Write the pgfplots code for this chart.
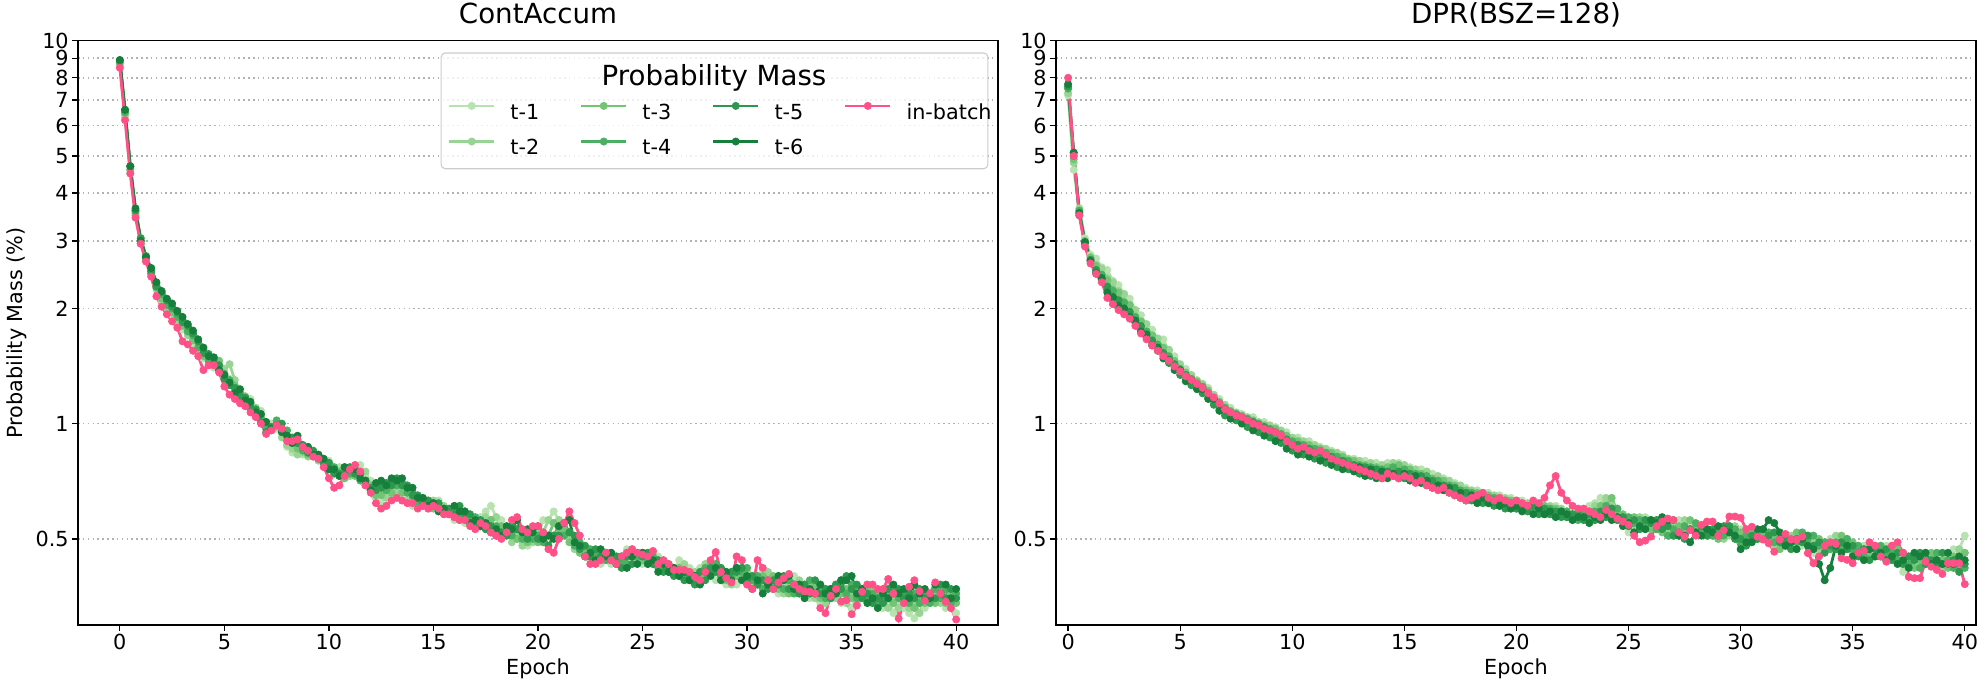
\documentclass[border=0pt]{standalone}
\usepackage{fontspec}
\setmainfont{DejaVu Sans}
\usepackage{pgfplots}
\usepackage{pgfplotstable}
\pgfplotsset{compat=1.18}
\definecolor{g1}{HTML}{B8E3B1}
\definecolor{g2}{HTML}{98D594}
\definecolor{g3}{HTML}{74C476}
\definecolor{g4}{HTML}{4BB062}
\definecolor{g5}{HTML}{2F984F}
\definecolor{g6}{HTML}{157F3B}
\definecolor{pk}{HTML}{FF5087}

\pgfplotstableread{
x a b c d e f p
0 8.6 8.7 8.8 8.8 8.9 8.9 8.5
0.25 6.3 6.4 6.5 6.5 6.6 6.6 6.2
0.5 4.5 4.6 4.6 4.7 4.7 4.7 4.5
0.75 3.5 3.5 3.55 3.6 3.6 3.65 3.45
1 3.0 3.05 2.95 3.0 3.05 3.0 2.95
1.25 2.74 2.7 2.68 2.72 2.74 2.72 2.65
1.5 2.5 2.45 2.52 2.47 2.5 2.55 2.42
1.75 2.25 2.3 2.26 2.32 2.28 2.34 2.15
2 2.1 2.16 2.12 2.18 2.2 2.22 2.02
2.25 2.04 2.0 2.06 2.04 2.1 2.12 1.93
2.5 1.92 1.97 1.95 2.0 2.02 2.06 1.85
2.75 1.88 1.85 1.92 1.9 1.95 1.97 1.78
3 1.76 1.82 1.8 1.86 1.84 1.9 1.64
3.25 1.72 1.7 1.76 1.74 1.8 1.82 1.61
3.5 1.62 1.67 1.65 1.7 1.72 1.75 1.55
3.75 1.57 1.55 1.62 1.58 1.64 1.66 1.5
4 1.48 1.53 1.5 1.56 1.53 1.58 1.38
4.25 1.46 1.44 1.49 1.46 1.52 1.5 1.42
4.5 1.4 1.46 1.44 1.47 1.44 1.49 1.42
4.75 1.43 1.4 1.46 1.38 1.42 1.38 1.36
5 1.32 1.39 1.34 1.35 1.31 1.34 1.25
5.25 1.31 1.43 1.28 1.3 1.26 1.28 1.19
5.5 1.22 1.3 1.26 1.21 1.24 1.2 1.16
5.75 1.21 1.2 1.17 1.2 1.18 1.23 1.13
6 1.14 1.18 1.16 1.13 1.17 1.15 1.11
6.25 1.16 1.11 1.1 1.13 1.1 1.14 1.07
6.5 1.1 1.1 1.07 1.05 1.09 1.07 1.04
6.75 1.08 1.04 1.05 1.03 1.01 1.06 1.0
7 1.0 1.01 0.97 0.98 0.95 1.01 0.94
7.25 1.0 0.96 0.98 0.97 0.98 0.97 0.96
7.5 0.97 0.98 1.0 1.02 0.99 0.99 0.99
7.75 0.95 0.92 0.95 0.97 1.0 0.95 0.97
8 0.87 0.88 0.91 0.96 0.93 0.93 0.9
8.25 0.84 0.86 0.9 0.89 0.92 0.89 0.9
8.5 0.85 0.83 0.86 0.89 0.89 0.93 0.91
8.75 0.83 0.84 0.87 0.85 0.88 0.87 0.87
9 0.85 0.82 0.83 0.86 0.84 0.87 0.85
9.25 0.82 0.83 0.84 0.83 0.85 0.83 0.82
9.5 0.83 0.8 0.81 0.82 0.81 0.83 0.81
9.75 0.79 0.8 0.79 0.8 0.79 0.81 0.77
10 0.8 0.76 0.79 0.76 0.79 0.76 0.72
10.25 0.76 0.76 0.75 0.77 0.74 0.76 0.68
10.5 0.77 0.73 0.75 0.74 0.74 0.73 0.69
10.75 0.72 0.75 0.72 0.77 0.74 0.77 0.73
11 0.73 0.73 0.76 0.74 0.77 0.76 0.76
11.25 0.75 0.77 0.73 0.75 0.74 0.76 0.78
11.5 0.78 0.75 0.74 0.71 0.74 0.72 0.75
11.75 0.74 0.75 0.7 0.71 0.69 0.71 0.69
12 0.71 0.68 0.69 0.67 0.68 0.67 0.66
12.25 0.64 0.67 0.65 0.68 0.67 0.7 0.62
12.5 0.62 0.66 0.65 0.69 0.68 0.71 0.6
12.75 0.65 0.64 0.68 0.67 0.7 0.69 0.61
13 0.64 0.67 0.66 0.7 0.69 0.72 0.63
13.25 0.67 0.66 0.69 0.69 0.72 0.71 0.64
13.5 0.63 0.67 0.66 0.7 0.69 0.72 0.63
13.75 0.64 0.63 0.67 0.66 0.69 0.68 0.62
14 0.61 0.64 0.63 0.66 0.65 0.68 0.62
14.25 0.62 0.61 0.64 0.62 0.65 0.64 0.6
14.5 0.61 0.63 0.61 0.63 0.62 0.64 0.61
14.75 0.63 0.6 0.62 0.61 0.63 0.61 0.6
15 0.62 0.63 0.6 0.62 0.61 0.62 0.61
15.25 0.63 0.6 0.61 0.59 0.62 0.59 0.6
15.5 0.59 0.61 0.58 0.6 0.59 0.6 0.58
15.75 0.59 0.58 0.59 0.58 0.6 0.58 0.58
16 0.56 0.59 0.57 0.59 0.58 0.61 0.57
16.25 0.57 0.56 0.59 0.58 0.61 0.59 0.56
16.5 0.55 0.58 0.56 0.59 0.58 0.59 0.56
16.75 0.56 0.55 0.57 0.56 0.58 0.55 0.54
17 0.54 0.56 0.54 0.57 0.55 0.56 0.53
17.25 0.57 0.54 0.56 0.54 0.56 0.54 0.55
17.5 0.59 0.57 0.54 0.55 0.53 0.55 0.54
17.75 0.61 0.56 0.56 0.53 0.54 0.52 0.52
18 0.57 0.57 0.53 0.54 0.51 0.53 0.51
18.25 0.56 0.53 0.54 0.51 0.52 0.51 0.5
18.5 0.52 0.53 0.51 0.53 0.51 0.54 0.52
18.75 0.53 0.49 0.52 0.51 0.54 0.53 0.56
19 0.5 0.51 0.5 0.53 0.53 0.56 0.57
19.25 0.51 0.48 0.51 0.5 0.53 0.52 0.53
19.5 0.48 0.5 0.49 0.51 0.5 0.53 0.52
19.75 0.51 0.49 0.51 0.5 0.53 0.52 0.54
20 0.51 0.52 0.49 0.51 0.5 0.54 0.54
20.25 0.56 0.52 0.52 0.49 0.51 0.5 0.52
20.5 0.56 0.56 0.51 0.51 0.48 0.51 0.47
20.75 0.59 0.55 0.55 0.51 0.51 0.5 0.46
21 0.56 0.56 0.52 0.54 0.51 0.54 0.5
21.25 0.55 0.52 0.53 0.51 0.55 0.55 0.55
21.5 0.5 0.51 0.49 0.52 0.52 0.56 0.59
21.75 0.5 0.47 0.5 0.48 0.51 0.49 0.55
22 0.46 0.48 0.46 0.49 0.47 0.48 0.51
22.25 0.47 0.45 0.47 0.45 0.48 0.45 0.45
22.5 0.44 0.46 0.45 0.47 0.45 0.46 0.43
22.75 0.45 0.44 0.46 0.45 0.47 0.44 0.43
23 0.43 0.45 0.44 0.46 0.45 0.47 0.44
23.25 0.46 0.44 0.46 0.44 0.46 0.45 0.46
23.5 0.43 0.45 0.44 0.46 0.44 0.46 0.44
23.75 0.44 0.43 0.45 0.43 0.45 0.43 0.43
24 0.44 0.45 0.43 0.44 0.42 0.45 0.45
24.25 0.47 0.45 0.46 0.43 0.45 0.42 0.46
24.5 0.44 0.47 0.45 0.46 0.43 0.45 0.47
24.75 0.45 0.44 0.46 0.45 0.46 0.43 0.46
25 0.43 0.45 0.44 0.46 0.45 0.46 0.455
25.25 0.46 0.43 0.45 0.44 0.46 0.43 0.45
25.5 0.45 0.46 0.43 0.45 0.43 0.44 0.465
25.75 0.45 0.43 0.44 0.42 0.44 0.41 0.43
26 0.41 0.44 0.42 0.43 0.41 0.43 0.44
26.25 0.42 0.41 0.43 0.41 0.42 0.41 0.43
26.5 0.41 0.42 0.41 0.42 0.4 0.42 0.415
26.75 0.44 0.41 0.42 0.4 0.41 0.4 0.415
27 0.41 0.43 0.4 0.41 0.39 0.41 0.415
27.25 0.42 0.4 0.41 0.39 0.4 0.39 0.41
27.5 0.39 0.41 0.39 0.4 0.38 0.4 0.398
27.75 0.42 0.4 0.41 0.39 0.41 0.38 0.39
28 0.41 0.43 0.4 0.42 0.39 0.41 0.41
28.25 0.42 0.41 0.43 0.41 0.42 0.4 0.44
28.5 0.39 0.42 0.41 0.43 0.41 0.42 0.462
28.75 0.4 0.39 0.42 0.4 0.42 0.39 0.41
29 0.38 0.4 0.39 0.41 0.4 0.41 0.395
29.25 0.39 0.38 0.41 0.4 0.41 0.39 0.385
29.5 0.38 0.41 0.4 0.42 0.41 0.42 0.45
29.75 0.41 0.4 0.42 0.41 0.42 0.39 0.44
30 0.38 0.41 0.39 0.42 0.39 0.4 0.38
30.25 0.39 0.38 0.4 0.39 0.4 0.37 0.37
30.5 0.38 0.39 0.38 0.4 0.38 0.39 0.44
30.75 0.41 0.38 0.4 0.37 0.39 0.36 0.42
31 0.38 0.41 0.38 0.39 0.37 0.38 0.39
31.25 0.39 0.38 0.4 0.38 0.39 0.37 0.37
31.5 0.36 0.39 0.37 0.4 0.38 0.4 0.385
31.75 0.38 0.36 0.39 0.37 0.4 0.39 0.395
32 0.37 0.38 0.36 0.39 0.37 0.4 0.405
32.25 0.4 0.37 0.38 0.36 0.38 0.37 0.38
32.5 0.37 0.39 0.36 0.38 0.36 0.38 0.37
32.75 0.38 0.36 0.38 0.36 0.38 0.35 0.365
33 0.35 0.38 0.36 0.39 0.36 0.37 0.364
33.25 0.36 0.35 0.38 0.36 0.39 0.36 0.36
33.5 0.34 0.36 0.35 0.38 0.36 0.38 0.33
33.75 0.37 0.34 0.37 0.35 0.37 0.36 0.32
34 0.36 0.37 0.35 0.37 0.35 0.37 0.355
34.25 0.37 0.35 0.38 0.36 0.38 0.36 0.37
34.5 0.34 0.37 0.36 0.39 0.37 0.39 0.343
34.75 0.35 0.34 0.37 0.36 0.4 0.39 0.346
35 0.33 0.36 0.35 0.38 0.37 0.4 0.318
35.25 0.36 0.34 0.37 0.35 0.38 0.36 0.335
35.5 0.35 0.37 0.35 0.37 0.35 0.37 0.364
35.75 0.38 0.35 0.37 0.35 0.36 0.34 0.38
36 0.35 0.37 0.35 0.36 0.34 0.35 0.38
36.25 0.36 0.34 0.36 0.34 0.35 0.33 0.37
36.5 0.33 0.36 0.34 0.36 0.34 0.36 0.37
36.75 0.35 0.33 0.36 0.35 0.37 0.35 0.393
37 0.32 0.35 0.34 0.37 0.36 0.38 0.36
37.25 0.34 0.33 0.36 0.35 0.37 0.36 0.31
37.5 0.33 0.35 0.34 0.36 0.35 0.37 0.34
37.75 0.32 0.33 0.35 0.34 0.36 0.35 0.375
38 0.31 0.34 0.33 0.36 0.35 0.38 0.39
38.25 0.34 0.32 0.35 0.34 0.37 0.36 0.365
38.5 0.33 0.35 0.34 0.36 0.35 0.37 0.345
38.75 0.36 0.34 0.36 0.34 0.36 0.35 0.36
39 0.35 0.36 0.34 0.37 0.35 0.38 0.385
39.25 0.36 0.34 0.37 0.35 0.38 0.36 0.36
39.5 0.33 0.35 0.34 0.37 0.35 0.38 0.343
39.75 0.34 0.33 0.36 0.34 0.37 0.35 0.33
40 0.32 0.35 0.34 0.36 0.35 0.37 0.308
}\Ldata

\pgfplotstableread{
x a b c d e f p
0 7.2 7.3 7.5 7.5 7.6 7.7 8.0
0.25 4.6 4.8 4.9 5.0 5.1 5.1 5.0
0.5 3.6 3.65 3.55 3.6 3.5 3.55 3.5
0.75 3.05 3.0 3.0 2.95 2.97 2.98 2.9
1 2.76 2.7 2.72 2.66 2.68 2.66 2.62
1.25 2.7 2.6 2.58 2.5 2.52 2.47 2.46
1.5 2.56 2.54 2.44 2.45 2.38 2.4 2.34
1.75 2.52 2.4 2.37 2.28 2.28 2.2 2.13
2 2.36 2.34 2.24 2.22 2.14 2.14 2.05
2.25 2.3 2.22 2.2 2.1 2.1 2.03 1.98
2.5 2.18 2.18 2.08 2.07 1.98 2.0 1.93
2.75 2.12 2.04 2.04 1.95 1.96 1.9 1.88
3 1.98 1.98 1.9 1.9 1.84 1.86 1.8
3.25 1.92 1.85 1.85 1.78 1.8 1.74 1.72
3.5 1.8 1.82 1.74 1.74 1.68 1.71 1.66
3.75 1.76 1.7 1.7 1.63 1.65 1.6 1.6
4 1.66 1.67 1.6 1.61 1.55 1.58 1.55
4.25 1.66 1.58 1.58 1.51 1.53 1.48 1.5
4.5 1.54 1.56 1.48 1.5 1.44 1.47 1.46
4.75 1.5 1.44 1.46 1.4 1.43 1.38 1.41
5 1.4 1.43 1.37 1.39 1.34 1.38 1.37
5.25 1.39 1.34 1.36 1.31 1.34 1.29 1.33
5.5 1.31 1.34 1.28 1.31 1.26 1.3 1.3
5.75 1.3 1.26 1.29 1.24 1.27 1.23 1.27
6 1.23 1.27 1.22 1.25 1.2 1.23 1.24
6.25 1.24 1.19 1.22 1.17 1.2 1.16 1.2
6.5 1.16 1.19 1.14 1.17 1.12 1.16 1.17
6.75 1.16 1.11 1.14 1.09 1.13 1.08 1.13
7 1.09 1.12 1.07 1.1 1.05 1.09 1.09
7.25 1.1 1.05 1.08 1.04 1.07 1.03 1.07
7.5 1.04 1.07 1.03 1.06 1.02 1.05 1.05
7.75 1.06 1.02 1.05 1.01 1.04 1.0 1.04
8 1.01 1.04 1.0 1.03 0.98 1.02 1.02
8.25 1.04 0.99 1.02 0.97 1.01 0.96 1.0
8.5 0.98 1.01 0.97 1.0 0.95 0.99 0.99
8.75 1.01 0.96 0.99 0.95 0.98 0.93 0.97
9 0.96 0.99 0.94 0.97 0.92 0.96 0.96
9.25 0.98 0.93 0.97 0.92 0.95 0.9 0.95
9.5 0.92 0.96 0.91 0.94 0.89 0.92 0.93
9.75 0.95 0.9 0.93 0.88 0.91 0.86 0.9
10 0.89 0.92 0.87 0.9 0.85 0.88 0.88
10.25 0.92 0.87 0.9 0.85 0.88 0.83 0.86
10.5 0.87 0.9 0.85 0.88 0.83 0.86 0.87
10.75 0.9 0.85 0.88 0.83 0.86 0.82 0.85
11 0.85 0.88 0.83 0.86 0.81 0.84 0.84
11.25 0.87 0.83 0.86 0.81 0.84 0.8 0.85
11.5 0.82 0.86 0.81 0.84 0.79 0.82 0.83
11.75 0.85 0.81 0.84 0.79 0.82 0.78 0.81
12 0.8 0.84 0.79 0.82 0.77 0.8 0.8
12.25 0.83 0.79 0.82 0.77 0.8 0.76 0.79
12.5 0.78 0.81 0.77 0.8 0.76 0.78 0.78
12.75 0.81 0.77 0.8 0.76 0.78 0.75 0.77
13 0.77 0.8 0.76 0.78 0.74 0.77 0.76
13.25 0.8 0.76 0.78 0.75 0.77 0.73 0.75
13.5 0.76 0.79 0.75 0.77 0.73 0.76 0.74
13.75 0.79 0.75 0.77 0.73 0.76 0.72 0.73
14 0.75 0.78 0.74 0.76 0.72 0.75 0.72
14.25 0.79 0.75 0.77 0.73 0.75 0.72 0.74
14.5 0.77 0.79 0.75 0.77 0.73 0.74 0.73
14.75 0.79 0.76 0.78 0.74 0.75 0.72 0.72
15 0.75 0.78 0.74 0.76 0.72 0.74 0.73
15.25 0.77 0.74 0.76 0.72 0.74 0.71 0.72
15.5 0.74 0.76 0.72 0.74 0.71 0.73 0.7
15.75 0.76 0.72 0.74 0.71 0.73 0.7 0.71
16 0.72 0.75 0.71 0.73 0.69 0.71 0.69
16.25 0.74 0.7 0.72 0.69 0.71 0.68 0.68
16.5 0.7 0.73 0.69 0.71 0.68 0.69 0.67
16.75 0.72 0.69 0.71 0.67 0.69 0.67 0.68
17 0.68 0.71 0.67 0.69 0.66 0.68 0.66
17.25 0.7 0.67 0.69 0.66 0.68 0.65 0.65
17.5 0.67 0.69 0.66 0.67 0.64 0.66 0.64
17.75 0.68 0.65 0.67 0.64 0.66 0.63 0.63
18 0.65 0.67 0.64 0.66 0.63 0.65 0.64
18.25 0.67 0.64 0.66 0.63 0.65 0.62 0.65
18.5 0.64 0.66 0.63 0.65 0.62 0.64 0.66
18.75 0.66 0.63 0.65 0.62 0.64 0.62 0.64
19 0.63 0.65 0.62 0.64 0.61 0.63 0.63
19.25 0.65 0.62 0.64 0.61 0.63 0.61 0.64
19.5 0.62 0.64 0.61 0.63 0.6 0.62 0.63
19.75 0.64 0.61 0.63 0.6 0.62 0.6 0.62
20 0.61 0.63 0.6 0.62 0.6 0.61 0.63
20.25 0.63 0.6 0.62 0.6 0.61 0.59 0.62
20.5 0.6 0.62 0.6 0.61 0.59 0.61 0.61
20.75 0.62 0.6 0.61 0.59 0.61 0.58 0.63
21 0.59 0.61 0.59 0.61 0.58 0.6 0.62
21.25 0.61 0.59 0.61 0.58 0.6 0.58 0.64
21.5 0.59 0.61 0.58 0.6 0.58 0.59 0.69
21.75 0.61 0.58 0.6 0.58 0.59 0.57 0.73
22 0.58 0.6 0.58 0.59 0.57 0.59 0.66
22.25 0.57 0.59 0.57 0.59 0.57 0.58 0.63
22.5 0.56 0.58 0.58 0.57 0.58 0.56 0.61
22.75 0.58 0.57 0.59 0.56 0.58 0.57 0.6
23 0.57 0.59 0.57 0.58 0.56 0.57 0.6
23.25 0.61 0.58 0.59 0.57 0.58 0.55 0.59
23.5 0.62 0.61 0.58 0.59 0.56 0.57 0.58
23.75 0.64 0.61 0.61 0.58 0.59 0.56 0.57
24 0.61 0.64 0.61 0.61 0.57 0.58 0.595
24.25 0.61 0.61 0.64 0.6 0.6 0.56 0.58
24.5 0.56 0.6 0.59 0.6 0.56 0.57 0.565
24.75 0.56 0.55 0.58 0.56 0.57 0.54 0.555
25 0.52 0.55 0.54 0.57 0.54 0.55 0.544
25.25 0.55 0.54 0.57 0.55 0.56 0.52 0.51
25.5 0.54 0.57 0.55 0.56 0.53 0.54 0.49
25.75 0.57 0.54 0.56 0.54 0.56 0.53 0.495
26 0.54 0.56 0.53 0.56 0.55 0.56 0.507
26.25 0.56 0.53 0.55 0.53 0.56 0.55 0.54
26.5 0.53 0.55 0.52 0.54 0.53 0.57 0.555
26.75 0.54 0.52 0.54 0.51 0.54 0.56 0.565
27 0.53 0.54 0.51 0.53 0.51 0.56 0.56
27.25 0.56 0.53 0.54 0.51 0.52 0.51 0.52
27.5 0.53 0.56 0.53 0.54 0.5 0.51 0.507
27.75 0.54 0.53 0.56 0.53 0.53 0.49 0.527
28 0.51 0.54 0.53 0.55 0.52 0.52 0.51
28.25 0.53 0.51 0.54 0.52 0.54 0.51 0.544
28.5 0.52 0.53 0.51 0.53 0.51 0.53 0.555
28.75 0.53 0.51 0.52 0.51 0.53 0.52 0.555
29 0.5 0.52 0.5 0.52 0.51 0.54 0.51
29.25 0.51 0.5 0.53 0.51 0.54 0.53 0.527
29.5 0.53 0.51 0.54 0.52 0.54 0.52 0.572
29.75 0.52 0.54 0.51 0.53 0.5 0.51 0.572
30 0.53 0.51 0.52 0.49 0.5 0.47 0.568
30.25 0.5 0.52 0.5 0.51 0.48 0.49 0.53
30.5 0.51 0.5 0.53 0.5 0.51 0.49 0.538
30.75 0.5 0.51 0.5 0.52 0.5 0.53 0.507
31 0.53 0.5 0.51 0.5 0.53 0.53 0.498
31.25 0.5 0.51 0.49 0.52 0.51 0.56 0.487
31.5 0.51 0.48 0.5 0.49 0.52 0.55 0.463
31.75 0.48 0.5 0.47 0.5 0.49 0.52 0.498
32 0.49 0.48 0.5 0.48 0.5 0.48 0.515
32.25 0.48 0.51 0.49 0.5 0.47 0.49 0.498
32.5 0.51 0.5 0.52 0.49 0.5 0.47 0.498
32.75 0.48 0.51 0.5 0.52 0.49 0.5 0.507
33 0.49 0.48 0.51 0.5 0.51 0.48 0.459
33.25 0.46 0.49 0.48 0.51 0.48 0.47 0.432
33.5 0.48 0.47 0.5 0.48 0.49 0.43 0.45
33.75 0.47 0.49 0.47 0.49 0.46 0.39 0.48
34 0.5 0.48 0.49 0.47 0.48 0.42 0.49
34.25 0.49 0.51 0.48 0.49 0.47 0.48 0.485
34.5 0.5 0.49 0.51 0.48 0.49 0.46 0.445
34.75 0.47 0.5 0.48 0.5 0.47 0.48 0.441
35 0.47 0.46 0.49 0.47 0.48 0.45 0.432
35.25 0.45 0.47 0.46 0.48 0.45 0.46 0.46
35.5 0.48 0.45 0.47 0.45 0.47 0.44 0.466
35.75 0.45 0.48 0.45 0.47 0.44 0.47 0.49
36 0.46 0.45 0.48 0.45 0.47 0.45 0.48
36.25 0.45 0.46 0.45 0.48 0.45 0.46 0.45
36.5 0.48 0.45 0.46 0.45 0.47 0.44 0.436
36.75 0.45 0.48 0.45 0.46 0.44 0.45 0.48
37 0.45 0.45 0.47 0.44 0.46 0.43 0.49
37.25 0.41 0.45 0.44 0.46 0.43 0.44 0.46
37.5 0.44 0.42 0.45 0.43 0.45 0.42 0.398
37.75 0.43 0.44 0.42 0.45 0.44 0.46 0.395
38 0.46 0.43 0.44 0.42 0.46 0.45 0.395
38.25 0.43 0.46 0.43 0.44 0.43 0.46 0.436
38.5 0.44 0.43 0.46 0.43 0.44 0.43 0.423
38.75 0.42 0.44 0.43 0.46 0.43 0.44 0.415
39 0.45 0.42 0.44 0.43 0.46 0.43 0.405
39.25 0.44 0.45 0.42 0.44 0.43 0.46 0.432
39.5 0.47 0.44 0.45 0.42 0.44 0.43 0.432
39.75 0.47 0.47 0.43 0.44 0.41 0.45 0.432
40 0.51 0.46 0.46 0.42 0.43 0.44 0.381
}\Rdata

\pgfplotsset{
  every axis/.append style={
    scale only axis, width=662.4bp, height=420.7bp,
    ymode=log, ymin=0.298, ymax=10,
    ytick={0.5,1,2,3,4,5,6,7,8,9,10},
    yticklabels={0.5,1,2,3,4,5,6,7,8,9,10},
    xtick={0,5,10,15,20,25,30,35,40},
    xticklabels={0,5,10,15,20,25,30,35,40},
    minor y tick num=0,
    axis line style={line width=0.9bp},
    major tick style={line width=0.9bp, black},
    major tick length=4bp,
    tick align=outside,
    xtick pos=left, ytick pos=left,
    ymajorgrids,
    major grid style={line width=1.1bp, color=black!30, dash pattern=on 1.1bp off 2.4bp},
    tick label style={font=\fontsize{15}{18}\selectfont, inner sep=2.5bp},
    /pgf/number format/assume math mode=true,
    title style={font=\fontsize{20}{24}\selectfont, at={(0.5,1)}, anchor=base, yshift=6.5bp},
    xlabel style={font=\fontsize{15}{18}\selectfont, at={(0.5,0)}, anchor=base, yshift=-36bp},
    ylabel style={font=\fontsize{15}{18}\selectfont, at={(-0.0661,0.5)}, anchor=center},
  },
}

\begin{document}
\begin{tikzpicture}
\useasboundingbox (-56.16bp,-46.8bp) rectangle (1374.5bp,450bp);
\begin{axis}[at={(0,0)}, anchor=south west,
  xmin=-2, xmax=42,
  title={ContAccum}, xlabel={Epoch}, ylabel={Probability Mass (\%)},
  legend columns=4, legend cell align=left,
  legend image code/.code={\draw[mark repeat=2,mark phase=2,#1] plot coordinates {(0bp,5.8bp) (16.2bp,5.8bp) (32.4bp,5.8bp)};},
  legend style={draw=none, fill=none, inner sep=0pt, outer sep=0pt,
    at={(0.402,0.8455)}, anchor=west,
    font=\fontsize{15}{18}\selectfont,
    row sep=10bp,
    /tikz/every even column/.append style={column sep=18.5bp},
    nodes={inner xsep=10.7bp, inner ysep=0pt, text height=11bp, text depth=3.5bp}},
]
\addplot[color=g1, line width=2bp, mark=*, mark size=2.6bp, mark options={line width=0.5bp}, forget plot] table[x=x, y=a]{\Ldata};
\addplot[color=g2, line width=2bp, mark=*, mark size=2.6bp, mark options={line width=0.5bp}, forget plot] table[x=x, y=b]{\Ldata};
\addplot[color=g3, line width=2bp, mark=*, mark size=2.6bp, mark options={line width=0.5bp}, forget plot] table[x=x, y=c]{\Ldata};
\addplot[color=g4, line width=2bp, mark=*, mark size=2.6bp, mark options={line width=0.5bp}, forget plot] table[x=x, y=d]{\Ldata};
\addplot[color=g5, line width=2bp, mark=*, mark size=2.6bp, mark options={line width=0.5bp}, forget plot] table[x=x, y=e]{\Ldata};
\addplot[color=g6, line width=2bp, mark=*, mark size=2.6bp, mark options={line width=0.5bp}, forget plot] table[x=x, y=f]{\Ldata};
\addplot[color=pk, line width=2bp, mark=*, mark size=2.6bp, mark options={line width=0.5bp}, forget plot] table[x=x, y=p]{\Ldata};
\draw[rounded corners=3bp, draw=black!20, line width=0.8bp, fill=white, fill opacity=0.8]
  (rel axis cs:0.3947,0.979) rectangle (rel axis cs:0.989,0.7809);
\node[font=\fontsize{20}{24}\selectfont, anchor=base] at (rel axis cs:0.6913,0.924) {Probability Mass};
\addlegendimage{color=g1, line width=2bp, mark=*, mark size=2.6bp, mark options={line width=0.5bp}}\addlegendentry{t-1}
\addlegendimage{color=g3, line width=2bp, mark=*, mark size=2.6bp, mark options={line width=0.5bp}}\addlegendentry{t-3}
\addlegendimage{color=g5, line width=2bp, mark=*, mark size=2.6bp, mark options={line width=0.5bp}}\addlegendentry{t-5}
\addlegendimage{color=pk, line width=2bp, mark=*, mark size=2.6bp, mark options={line width=0.5bp}}\addlegendentry{in-batch}
\addlegendimage{color=g2, line width=2bp, mark=*, mark size=2.6bp, mark options={line width=0.5bp}}\addlegendentry{t-2}
\addlegendimage{color=g4, line width=2bp, mark=*, mark size=2.6bp, mark options={line width=0.5bp}}\addlegendentry{t-4}
\addlegendimage{color=g6, line width=2bp, mark=*, mark size=2.6bp, mark options={line width=0.5bp}}\addlegendentry{t-6}
\end{axis}
\begin{axis}[at={(704.16bp,0)}, anchor=south west,
  xmin=-0.54, xmax=40.5,
  title={DPR(BSZ=128)}, xlabel={Epoch},
]
\addplot[color=g1, line width=2bp, mark=*, mark size=2.6bp, mark options={line width=0.5bp}] table[x=x, y=a]{\Rdata};
\addplot[color=g2, line width=2bp, mark=*, mark size=2.6bp, mark options={line width=0.5bp}] table[x=x, y=b]{\Rdata};
\addplot[color=g3, line width=2bp, mark=*, mark size=2.6bp, mark options={line width=0.5bp}] table[x=x, y=c]{\Rdata};
\addplot[color=g4, line width=2bp, mark=*, mark size=2.6bp, mark options={line width=0.5bp}] table[x=x, y=d]{\Rdata};
\addplot[color=g5, line width=2bp, mark=*, mark size=2.6bp, mark options={line width=0.5bp}] table[x=x, y=e]{\Rdata};
\addplot[color=g6, line width=2bp, mark=*, mark size=2.6bp, mark options={line width=0.5bp}] table[x=x, y=f]{\Rdata};
\addplot[color=pk, line width=2bp, mark=*, mark size=2.6bp, mark options={line width=0.5bp}] table[x=x, y=p]{\Rdata};
\end{axis}
\end{tikzpicture}
\end{document}
